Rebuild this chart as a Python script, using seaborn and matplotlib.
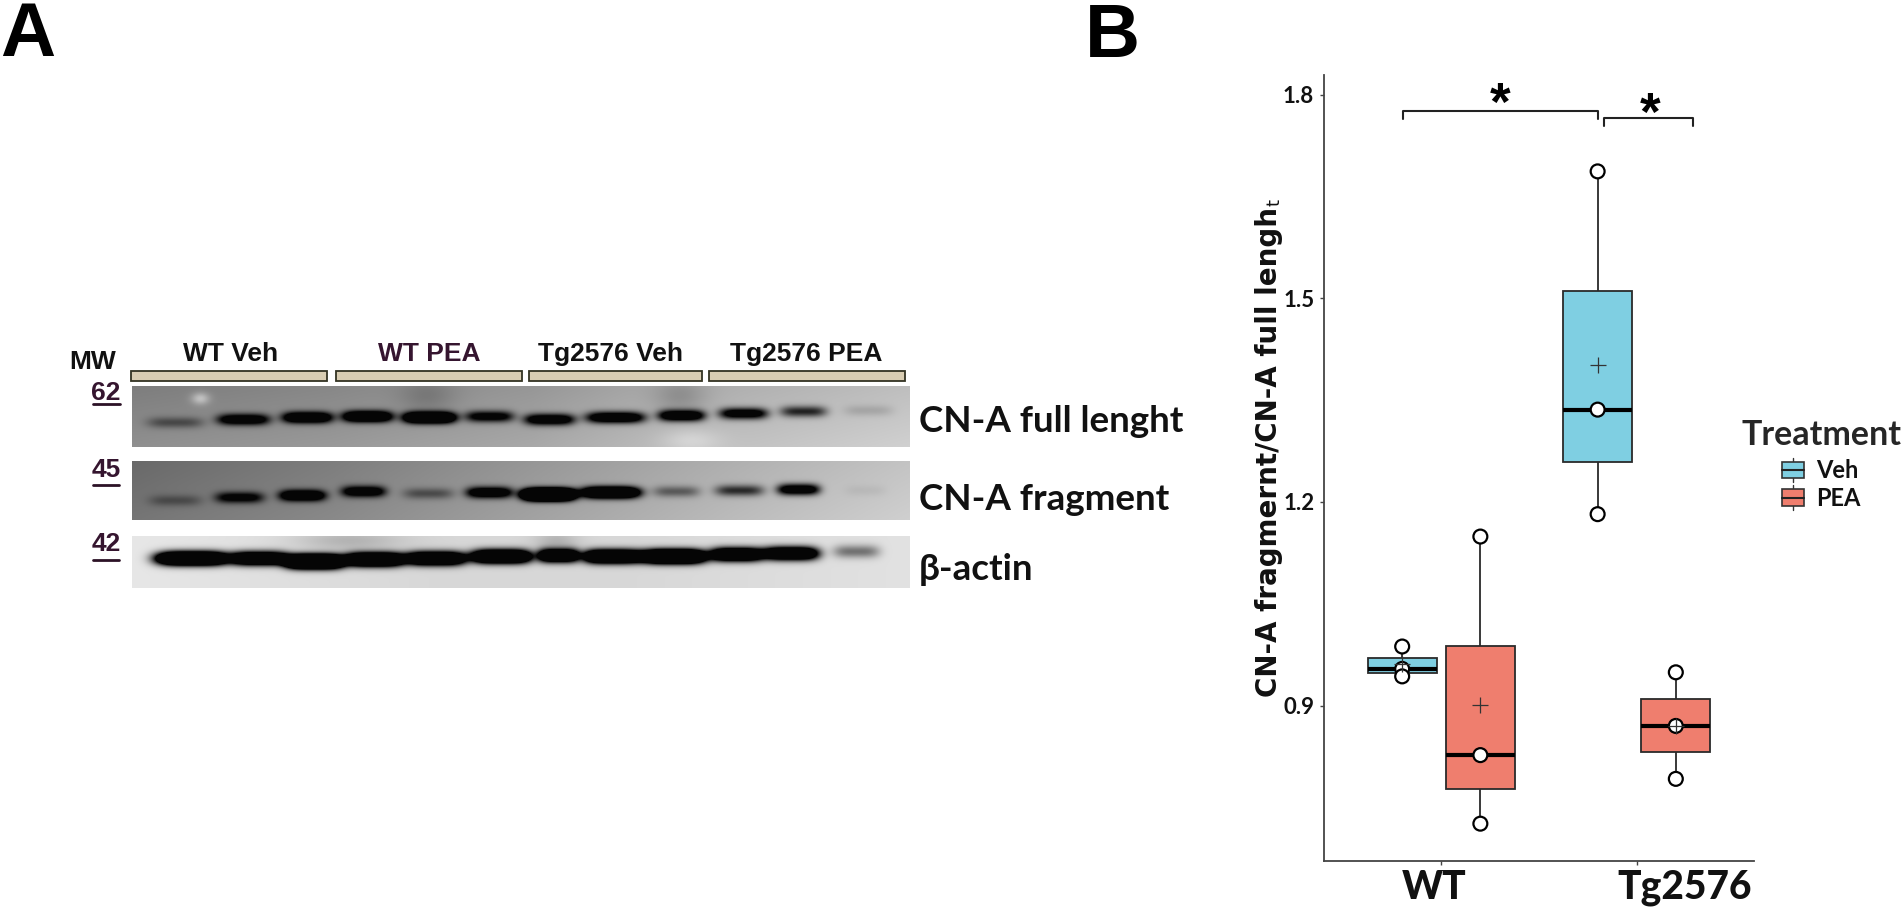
import numpy as np
import pandas as pd
import seaborn as sns
import matplotlib.pyplot as plt
from matplotlib.legend_handler import HandlerBase
from matplotlib.lines import Line2D
from matplotlib.patches import Patch, Rectangle
from matplotlib.transforms import ScaledTranslation

W, H = 1901, 908

# panel B data, one value per animal
genotypes = ['WT', 'Tg2576']
treatments = ['Veh', 'PEA']
wt_veh = [0.987, 0.954, 0.943]
wt_pea = [1.149, 0.827, 0.726]
tg_veh = [1.687, 1.336, 1.182]
tg_pea = [0.949, 0.870, 0.792]
yticks = [0.9, 1.2, 1.5, 1.8]
colors = ['#7fcfe2', '#ef7e6e']

# panel A bands per lane: centre, half width, row, density
blot1_x = [43, 111, 175, 235, 297, 357, 417, 483, 549, 611, 671, 736]
blot1_w = [28, 26, 25, 25, 26, 24, 25, 29, 23, 24, 23, 24]
blot1_y = [36, 33, 31, 30, 31, 30, 33, 31, 29, 27, 25, 24]
blot1_d = [.5, 1.6, 2, 2.2, 2.8, 1.3, 1.6, 1.7, 1.7, 1.4, .85, .15]
blot2_x = [43, 107, 170, 231, 296, 357, 416, 478, 544, 607, 666, 733]
blot2_w = [26, 24, 23, 22, 25, 23, 26, 29, 23, 24, 21, 20]
blot2_y = [39, 36, 34, 30, 32, 31, 33, 31, 30, 29, 28, 29]
blot2_d = [.4, 1.3, 2, 1.6, .5, 1.7, 5, 2.8, .5, .8, 1.5, .06]
blot3_x = [60, 127, 182, 242, 303, 369, 426, 480, 541, 604, 658, 724]
blot3_w = [36, 28, 29, 29, 30, 30, 20, 29, 32, 26, 28, 23]
blot3_y = [22, 22, 25, 23, 22, 20, 19, 20, 20, 18, 17, 15]
blot3_d = [3, 2.4, 4, 3, 2.6, 2.8, 2.4, 2.8, 3.5, 2.4, 2.2, .5]

# membrane grey along the blot: position, grey level
blot1_bg = ([0, 200, 400, 500, 600, 778], [125, 135, 150, 165, 175, 190])
blot2_bg = ([0, 200, 400, 600, 778], [105, 125, 150, 175, 195])
blot3_bg = ([0, 300, 500, 778], [230, 215, 215, 225])
# stains on the membrane: x, y, half width, half height, grey change
blot1_stain = [(68, 12, 9, 6, 60), (295, 10, 28, 17, -25), (548, 10, 26, 17, -30), (558, 54, 30, 12, 25)]
blot2_stain = []
blot3_stain = [(216, 4, 54, 11, -40), (424, 4, 22, 10, -35)]

group_labels = ['WT Veh', 'WT PEA', 'Tg2576 Veh', 'Tg2576 PEA']


def px_axes(fig, x0, y0, x1, y1):
    return fig.add_axes([x0 / W, 1 - y1 / H, (x1 - x0) / W, (y1 - y0) / H])


def put(fig, x, y, s, **kw):
    kw.setdefault('ha', 'center')
    kw.setdefault('va', 'center')
    return fig.text(x / W, 1 - y / H, s, **kw)


def blot(fig, box, xs, ws, ys, ds, bg, stains, sigma, drift):
    x0, y0, x1, y1 = box
    nx, ny = x1 - x0, y1 - y0
    xx, yy = np.meshgrid(np.arange(nx), np.arange(ny))
    band = np.zeros((ny, nx))
    for x, w, y, d in zip(xs, ws, ys, ds):
        band += d * np.exp(-((xx - x) / w) ** 4) * np.exp(-((yy - y) / sigma) ** 2)
    band = np.clip(band, 0, 1)
    back = np.interp(xx, bg[0], bg[1]) + drift * yy / ny
    for x, y, w, h, d in stains:
        back = back + d * np.exp(-((xx - x) / w) ** 2) * np.exp(-((yy - y) / h) ** 2)
    ax = px_axes(fig, *box)
    sns.heatmap(back * (1 - band) + 5 * band, ax=ax, cmap='gray', vmin=0, vmax=255,
                cbar=False, xticklabels=False, yticklabels=False, rasterized=True)
    ax.tick_params(length=0)


class BoxKey(HandlerBase):
    def create_artists(self, legend, orig, xd, yd, width, height, fontsize, trans):
        c = orig.get_facecolor()
        mid = width / 2 - xd
        rect = Rectangle((-xd, -yd), width, height, fc=c, ec='#333333', lw=1.2, transform=trans)
        med = Line2D([-xd, width - xd], [-yd + height / 2] * 2, color='#222222', lw=1.5, transform=trans)
        wh = Line2D([mid, mid], [-yd - 3, -yd + height + 3], color='#333333', lw=1, zorder=0, transform=trans)
        return [wh, rect, med]


sns.set_theme(style='white')
fig = plt.figure(figsize=(W / 100, H / 100), dpi=100, facecolor='white')

# ---- panel A
blot(fig, (132, 386, 910, 447), blot1_x, blot1_w, blot1_y, blot1_d, blot1_bg, blot1_stain, 5.5, 18)
blot(fig, (132, 461, 910, 520), blot2_x, blot2_w, blot2_y, blot2_d, blot2_bg, blot2_stain, 5.5, 12)
blot(fig, (132, 536, 910, 588), blot3_x, blot3_w, blot3_y, blot3_d, blot3_bg, blot3_stain, 6.5, 0)

overlay = fig.add_axes([0, 0, 1, 1], zorder=5)
overlay.set_xlim(0, W)
overlay.set_ylim(H, 0)
overlay.axis('off')
for a, b in [(131, 327), (336, 522), (529, 702), (709, 905)]:
    overlay.add_patch(Rectangle((a, 371), b - a, 10, fc='#d9cdb2', ec='#333322', lw=1.3))
for y, a, b in [(404, 93, 120), (485, 93, 119), (560, 93, 119)]:
    overlay.plot([a, b], [y, y], color='#2c1226', lw=2)

arial = dict(family='Liberation Sans', weight='bold')
calibri = dict(family='Lato', weight='bold')
for x, s, c in zip([231, 429, 610, 806], group_labels, ['#111111', '#35152f', '#111111', '#111111']):
    put(fig, x, 354, s, fontsize=19, color=c, **arial)
put(fig, 93, 362, 'MW', fontsize=19, color='#111111', **arial)
for y, s in [(393, '62'), (470, '45'), (544, '42')]:
    put(fig, 106, y, s, fontsize=19, color='#35152f', **arial)
put(fig, 919, 422, 'CN-A full lenght', ha='left', fontsize=26.5, color='#111111', **calibri)
put(fig, 919, 500, 'CN-A fragment', ha='left', fontsize=26.5, color='#111111', **calibri)
put(fig, 919, 570, 'β-actin', ha='left', fontsize=26.5, color='#111111', **calibri)
put(fig, 28, 56, 'A', fontsize=55, color='black', va='baseline', **arial)
put(fig, 1112, 57, 'B', fontsize=55, color='black', va='baseline', **arial)

# ---- panel B
df = pd.DataFrame({
    'genotype': ['WT'] * 6 + ['Tg2576'] * 6,
    'treatment': (['Veh'] * 3 + ['PEA'] * 3) * 2,
    'ratio': wt_veh + wt_pea + tg_veh + tg_pea,
})

ax = px_axes(fig, 1324, 75, 1754, 861)
sns.boxplot(data=df, x='genotype', y='ratio', hue='treatment', order=genotypes,
            hue_order=treatments, palette=colors, width=0.8, gap=0.12, saturation=1,
            linecolor='#2a2a2a', linewidth=1.3, showcaps=False, showmeans=True, legend=False,
            medianprops=dict(color='black', linewidth=3),
            meanprops=dict(marker='+', markeredgecolor='#333333', markerfacecolor='none',
                           markersize=12, markeredgewidth=0.9, zorder=6),
            ax=ax)
sns.stripplot(data=df, x='genotype', y='ratio', hue='treatment', order=genotypes,
              hue_order=treatments, dodge=True, jitter=False, palette=['white', 'white'],
              edgecolor='black', linewidth=1.6, size=10, zorder=4, legend=False, ax=ax)

ax.set_xlim(-0.6, 1.6)
ax.set_ylim(0.671, 1.829)
ax.set_yticks(yticks)
ax.set_yticklabels(['%.1f' % t for t in yticks], fontsize=16, color='#111111', **calibri)
ax.set_xticks([0, 1])
ax.set_xticklabels(genotypes, fontsize=28, color='#111111', family='Lato', weight='black')
ax.set_xlabel('')
ax.set_ylabel('')
ax.tick_params(axis='both', left=True, bottom=True, length=3, width=1, color='#444444')
ax.tick_params(axis='x', pad=3)
ax.tick_params(axis='y', pad=4)
sns.despine(ax=ax)
for s in ['left', 'bottom']:
    ax.spines[s].set_linewidth(1.3)
    ax.spines[s].set_color('#444444')

# tick labels sit off the ticks in the original
for lab, dx in zip(ax.get_xticklabels(), [-7, 48]):
    lab.set_transform(lab.get_transform() + ScaledTranslation(dx / 100, 0, fig.dpi_scale_trans))

# significance brackets
for x0, x1, top, low in [(-0.198, 0.803, 1.776, 1.764), (0.83, 1.29, 1.766, 1.754)]:
    ax.plot([x0, x0, x1, x1], [low, top, top, low], color='#222222', lw=1.5, clip_on=False)
put(fig, 1500, 106, '*', fontsize=38, color='black', **arial)
put(fig, 1650, 116, '*', fontsize=38, color='black', **arial)

put(fig, 1269, 452, 'CN-A fragmernt/CN-A full lengh', rotation=90, family='DejaVu Sans',
    weight='bold', fontsize=20, color='#111111')
put(fig, 1275, 202, 't', rotation=90, family='DejaVu Sans', fontsize=13, color='#111111')

# legend with small box glyphs
handles = [Patch(facecolor=c) for c in colors]
leg = fig.legend(handles, treatments, title='Treatment', frameon=False,
                 handler_map={Patch: BoxKey()}, loc='upper left',
                 bbox_to_anchor=(1741 / W, 1 - 419 / H), borderaxespad=0, borderpad=0,
                 handlelength=0.93, handleheight=0.7, handletextpad=0.5, labelspacing=0.2,
                 prop=dict(family='Lato', weight='bold', size=17),
                 title_fontproperties=dict(family='Lato', weight='bold', size=24.5))
leg._legend_box.sep += 2.5
for t in leg.get_texts():
    t.set_color('#111111')

fig.savefig('out.png', dpi=100)
